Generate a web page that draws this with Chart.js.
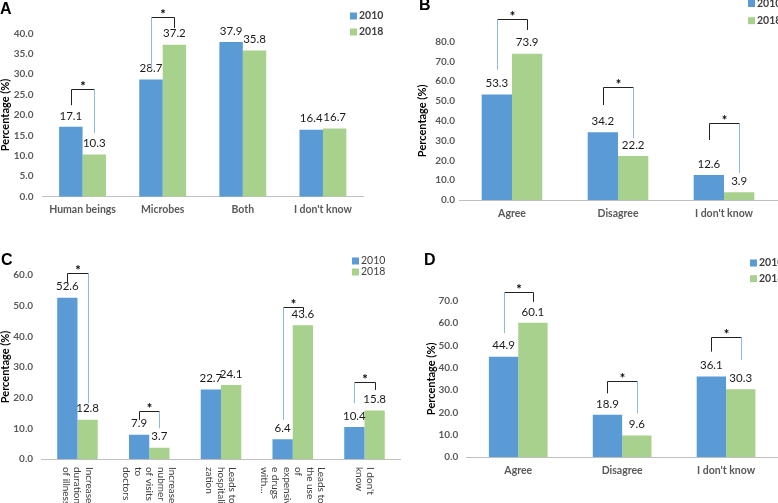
<!DOCTYPE html>
<html>
<head>
<meta charset="utf-8">
<script src="https://cdn.jsdelivr.net/npm/chart.js@4.4.1/dist/chart.umd.min.js"></script>
<style>
  html, body { margin: 0; padding: 0; background: #fff; }
  #wrap { position: relative; width: 778px; height: 503px; overflow: hidden; }
  #wrap canvas { position: absolute; }
</style>
</head>
<body>
<div id="wrap">
  <canvas id="chart-a" width="390" height="250" style="left:0;top:0"></canvas>
  <canvas id="chart-b" width="388" height="250" style="left:390px;top:0"></canvas>
  <canvas id="chart-c" width="405" height="253" style="left:0;top:250px"></canvas>
  <canvas id="chart-d" width="388" height="253" style="left:390px;top:250px"></canvas>
</div>
<script>
// ---- data ----
const seriesNames = ['2010', '2018'];

const catsA = ['Human beings', 'Microbes', 'Both', "I don't know"];
const a2010 = [17.1, 28.7, 37.9, 16.4];
const a2018 = [10.3, 37.2, 35.8, 16.7];
const ticksA = [0, 5, 10, 15, 20, 25, 30, 35, 40];

const catsB = ['Agree', 'Disagree', "I don't know"];
const b2010 = [53.3, 34.2, 12.6];
const b2018 = [73.9, 22.2, 3.9];
const ticksB = [0, 10, 20, 30, 40, 50, 60, 70, 80];

const catsC = [
  ['Increases', 'duration', 'of illness'],
  ['Increases', 'nubmer', 'of visits', 'to', 'doctors'],
  ['Leads to', 'hospitali', 'zation'],
  ['Leads to', 'the use', 'of', 'expensiv', 'e drugs', 'with...'],
  ["I don't", 'know']
];
const c2010 = [52.6, 7.9, 22.7, 6.4, 10.4];
const c2018 = [12.8, 3.7, 24.1, 43.6, 15.8];
const ticksC = [0, 10, 20, 30, 40, 50, 60];

const catsD = ['Agree', 'Disagree', "I don't know"];
const d2010 = [44.9, 18.9, 36.1];
const d2018 = [60.1, 9.6, 30.3];
const ticksD = [0, 10, 20, 30, 40, 50, 60, 70];

// significance brackets: [category, top, left end, right end, light blue side] in % units
const sigA = [[0, 26.3, 22.4, 15.6, 'right'], [1, 43.9, 31.0, 41.3, 'left']];
const sigB = [[0, 91.3, 65.7, 85.9, 'left'], [1, 56.9, 48.0, 31.2, 'right'], [2, 38.7, 30.3, 13.6, 'right']];
const sigC = [[0, 60.5, 57.3, 18.2, 'right'], [1, 15.8, 12.7, 10.0, 'right'], [3, 49.7, 12.7, 48.0, 'left'], [4, 25.2, 18.2, 22.5, 'left']];
const sigD = [[0, 74.0, 55.4, 69.5, 'left'], [1, 34.2, 28.5, 19.6, 'right'], [2, 53.9, 47.2, 43.4, 'right']];

const BLUE = '#5B9BD5';
const GREEN = '#A9D18E';
const BRACKET_BLUE = '#8DB9E6';
const DARK = '#222';
const FONT = 'Lato, "Open Sans", sans-serif';

function line(ctx, x1, y1, x2, y2, color) {
  ctx.strokeStyle = color;
  ctx.beginPath();
  ctx.moveTo(x1, y1);
  ctx.lineTo(x2, y2);
  ctx.stroke();
}

// labels on bars, brackets, legend, panel letter, rotated category labels
function makeAnnotate(cfg) {
  return {
    id: 'annotate',
    afterDatasetsDraw(chart) {
      const { ctx } = chart;
      const y = chart.scales.y;
      ctx.save();
      ctx.font = '11.5px ' + FONT;
      ctx.fillStyle = '#1a1a1a';
      ctx.textAlign = 'center';
      ctx.textBaseline = 'middle';
      chart.data.datasets.forEach((ds, i) => {
        chart.getDatasetMeta(i).data.forEach((bar, j) => {
          ctx.fillText(ds.data[j].toFixed(1), bar.x, bar.y - 11);
        });
      });

      ctx.lineWidth = 1;
      cfg.sig.forEach(([cat, top, leftEnd, rightEnd, blueSide]) => {
        const xl = Math.round(chart.getDatasetMeta(0).data[cat].x) + 0.5;
        const xr = Math.round(chart.getDatasetMeta(1).data[cat].x) + 0.5;
        const yt = Math.round(y.getPixelForValue(top)) + 0.5;
        line(ctx, xl, yt, xr, yt, DARK);
        line(ctx, xl, yt, xl, y.getPixelForValue(leftEnd), blueSide === 'left' ? BRACKET_BLUE : DARK);
        line(ctx, xr, yt, xr, y.getPixelForValue(rightEnd), blueSide === 'right' ? BRACKET_BLUE : DARK);
        ctx.fillStyle = '#000';
        ctx.font = 'bold 13px ' + FONT;
        ctx.textBaseline = 'alphabetic';
        ctx.fillText('*', (xl + xr) / 2, yt + 1);
      });
      ctx.restore();
    },
    afterDraw(chart) {
      const { ctx } = chart;
      ctx.save();
      // legend
      ctx.textAlign = 'left';
      ctx.textBaseline = 'middle';
      ctx.font = (cfg.legendBold ? 'bold ' : '') + '10.5px ' + FONT;
      chart.data.datasets.forEach((ds, i) => {
        const ly = cfg.legendY[i];
        ctx.fillStyle = ds.backgroundColor;
        ctx.fillRect(cfg.legendX, ly - 3.5, 7, 7);
        ctx.fillStyle = '#404040';
        ctx.fillText(ds.label, cfg.legendX + 9, ly);
      });
      // panel letter
      ctx.fillStyle = '#000';
      ctx.font = 'bold 16px "Liberation Sans", Arial, sans-serif';
      ctx.textBaseline = 'alphabetic';
      ctx.fillText(cfg.tag[0], cfg.tag[1], cfg.tag[2]);
      // rotated category labels (panel C reads top to bottom)
      if (cfg.rotated) {
        const x = chart.scales.x;
        ctx.font = '10px ' + FONT;
        ctx.fillStyle = '#404040';
        ctx.textBaseline = 'middle';
        chart.data.labels.forEach((lines, i) => {
          const cx = x.getPixelForValue(i);
          ctx.save();
          ctx.translate(cx, chart.chartArea.bottom + 8);
          ctx.rotate(Math.PI / 2);
          lines.forEach((txt, k) => {
            ctx.fillText(txt, 0, (k - (lines.length - 1) / 2) * 11.5);
          });
          ctx.restore();
        });
      }
      ctx.restore();
    }
  };
}

function makeChart(id, labels, v2010, v2018, ticks, cfg) {
  return new Chart(document.getElementById(id), {
    type: 'bar',
    data: {
      labels,
      datasets: [
        { label: seriesNames[0], data: v2010, backgroundColor: BLUE },
        { label: seriesNames[1], data: v2018, backgroundColor: GREEN }
      ]
    },
    options: {
      responsive: false,
      animation: false,
      layout: { padding: cfg.pad },
      datasets: { bar: { categoryPercentage: cfg.catPct, barPercentage: 1 } },
      plugins: { legend: { display: false }, tooltip: { enabled: false } },
      scales: {
        x: {
          grid: { display: false, drawTicks: false },
          border: { color: '#BFBFBF' },
          ticks: {
            display: !cfg.rotated,
            autoSkip: false,
            maxRotation: 0,
            padding: 7,
            color: '#595959',
            font: { family: FONT, size: 10.5, weight: 'bold' }
          },
          afterFit: (s) => { s.height = cfg.xH; }
        },
        y: {
          min: ticks[0],
          max: ticks[ticks.length - 1],
          grid: { display: false, drawTicks: false },
          border: { display: false },
          ticks: {
            stepSize: ticks[1] - ticks[0],
            padding: cfg.yTickPad,
            color: '#595959',
            font: { family: FONT, size: 10, weight: 'bold' },
            callback: (v) => Number(v).toFixed(1)
          },
          title: {
            display: true,
            text: 'Percentage (%)',
            color: '#000',
            padding: { top: cfg.titlePad, bottom: 0 },
            font: { family: FONT, size: 11, weight: 'bold' }
          },
          afterFit: (s) => { s.width = cfg.yW; }
        }
      }
    },
    plugins: [makeAnnotate(cfg)]
  });
}

makeChart('chart-a', catsA, a2010, a2018, ticksA, {
  pad: { left: 0, right: 27, top: 33.3, bottom: 33.3 }, yW: 42.5, xH: 20, catPct: 0.585,
  yTickPad: 9, titlePad: -1, sig: sigA, legendX: 350, legendY: [16, 32], legendBold: true, tag: ['A', 0, 14]
});
makeChart('chart-b', catsB, b2010, b2018, ticksB, {
  pad: { left: 26, right: 1, top: 41.7, bottom: 25 }, yW: 43, xH: 25, catPct: 0.572,
  yTickPad: 4, titlePad: 0, sig: sigB, legendX: 358, legendY: [3.5, 20.7], legendBold: true, tag: ['B', 29, 10]
});
makeChart('chart-c', catsC, c2010, c2018, ticksC, {
  pad: { left: 0, right: 4.6, top: 25, bottom: 0 }, yW: 41.6, xH: 44, catPct: 0.565,
  yTickPad: 8.5, titlePad: -1, sig: sigC, legendX: 352, legendY: [11, 22], legendBold: false, tag: ['C', 1, 15], rotated: true
});
makeChart('chart-d', catsD, d2010, d2018, ticksD, {
  pad: { left: 35, right: 0, top: 50.7, bottom: 21 }, yW: 41.3, xH: 25, catPct: 0.565,
  yTickPad: 8, titlePad: 0, sig: sigD, legendX: 360, legendY: [13, 28.7], legendBold: true, tag: ['D', 34, 15]
});
</script>
</body>
</html>
